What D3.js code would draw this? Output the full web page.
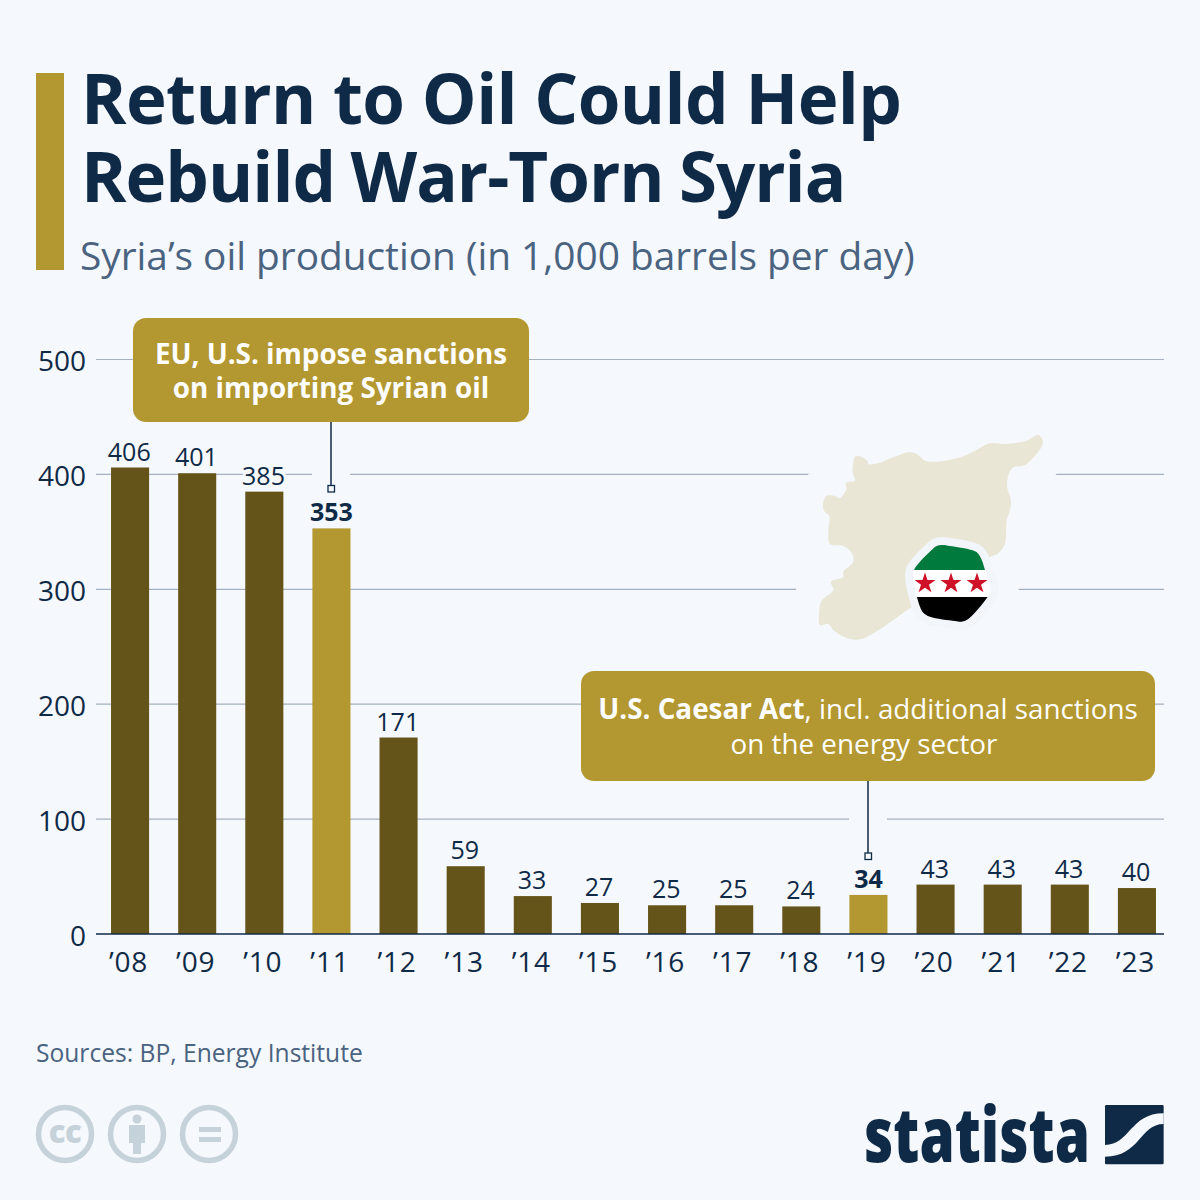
<!DOCTYPE html>
<html><head><meta charset="utf-8">
<script src="https://cdn.jsdelivr.net/npm/d3@7/dist/d3.min.js"></script>
<style>html,body{margin:0;padding:0;background:#f5f8fc}svg{display:block}text{font-family:"Open Sans",sans-serif}</style>
</head><body><div id="c"></div>
<script>
const years=["’08","’09","’10","’11","’12","’13","’14","’15","’16","’17","’18","’19","’20","’21","’22","’23"];
const production=[406,401,385,353,171,59,33,27,25,25,24,34,43,43,43,40];
const highlighted=["’11","’19"];
const yTicks=[0,100,200,300,400,500];
const titleLines=["Return to Oil Could Help","Rebuild War-Torn Syria"];
const subtitle="Syria’s oil production (in 1,000 barrels per day)";
const source="Sources: BP, Energy Institute";

const NAVY="#0f2a47",SLATE="#4a6380",DARK="#655419",GOLD="#b39730",BG="#f5f8fc",GRID="#a5b0c0";
const svg=d3.select("#c").append("svg").attr("width",1200).attr("height",1200);
svg.append("rect").attr("width",1200).attr("height",1200).attr("fill",BG);

// header
svg.append("rect").attr("x",36).attr("y",73).attr("width",28).attr("height",197).attr("fill",GOLD);
svg.selectAll("text.title").data(titleLines).join("text").attr("class","title")
  .attr("x",81).attr("y",(d,i)=>124+i*77.5).attr("font-size",69).attr("font-weight",700).attr("fill",NAVY)
  .attr("letter-spacing",(d,i)=>i?-1:-0.6).attr("word-spacing",(d,i)=>i?-1.6:0).text(d=>d);
svg.append("text").attr("x",80).attr("y",270).attr("font-size",38.8).attr("fill",SLATE).text(subtitle);

// scales
const y=d3.scaleLinear().domain([0,500]).range([934,359.5]);
const x=d3.scaleBand().domain(years).range([96.5,1170.5]).paddingInner(0.433).paddingOuter(0.2165);

// grid + axis
const yAxis=d3.axisLeft(y).tickValues(yTicks).tickSize(0).tickPadding(0);
const gy=svg.append("g").attr("transform","translate(86,0)").call(yAxis);
gy.select(".domain").remove();
gy.selectAll("text").attr("font-size",28).attr("fill",NAVY).attr("x",0).attr("dy","0.41em");
svg.append("g").selectAll("line").data(yTicks.filter(d=>d>0)).join("line")
  .attr("x1",96).attr("x2",1164).attr("y1",d=>y(d)).attr("y2",d=>y(d)).attr("stroke",GRID).attr("stroke-width",1.2);

// map
const mapPts=[[228,108],[262,122],[265,132],[295,130],[340,112],[385,97],[410,102],[435,122],[470,125],[530,115],[580,95],[630,70],[680,72],[740,62],[775,45],[788,60],[786,78],[735,135],[700,142],[685,165],[682,205],[692,235],[692,262],[680,300],[675,370],[655,400],[628,412],[500,500],[415,548],[240,658],[195,652],[160,630],[145,612],[120,615],[118,572],[125,542],[160,510],[152,485],[190,472],[190,455],[220,425],[215,398],[190,378],[150,372],[145,330],[148,290],[130,268],[138,228],[165,228],[178,235],[198,210],[198,188],[225,182],[218,155]];
const flagPts=[[470,378],[487,375],[510,378],[575,390],[592,398],[603,415],[615,450],[632,510],[620,535],[565,597],[545,605],[525,603],[450,590],[430,578],[420,560],[400,480],[402,450],[455,390]];
const zx=d3.scaleLinear().domain([0,300]).range([780,880]);
const zy=d3.scaleLinear().domain([0,240]).range([420,500]);
const line=d3.line().x(d=>zx(d[0])).y(d=>zy(d[1])).curve(d3.curveCatmullRomClosed.alpha(0.5));
const path=p=>line(p);
// mask grid around the map
svg.append("path").attr("d",path(mapPts)).attr("fill",BG).attr("stroke",BG).attr("stroke-width",56).attr("stroke-linejoin","round");
svg.append("path").attr("d",path(flagPts)).attr("fill",BG).attr("stroke",BG).attr("stroke-width",56).attr("stroke-linejoin","round");
svg.append("path").attr("d",path(mapPts)).attr("fill","#e9e6d6");
svg.append("path").attr("d",path(flagPts)).attr("fill","#f2f5fa").attr("stroke","#f2f5fa").attr("stroke-width",16).attr("stroke-linejoin","round");
const defs=svg.append("defs");
defs.append("clipPath").attr("id","fc").append("path").attr("d",path(flagPts));
const fg=svg.append("g").attr("clip-path","url(#fc)");
fg.append("rect").attr("x",900).attr("y",540).attr("width",100).attr("height",30).attr("fill","#007a3d");
fg.append("rect").attr("x",900).attr("y",570).attr("width",100).attr("height",27).attr("fill","#fff");
fg.append("rect").attr("x",900).attr("y",597).attr("width",100).attr("height",30).attr("fill","#000");
const star=d3.symbol().type(d3.symbolStar).size(135);
fg.selectAll("path.s").data([925,951,977]).join("path").attr("class","s")
  .attr("transform",d=>`translate(${d},583.5)`).attr("d",star()).attr("fill","#ce1126");

// callouts
function connector(cx,y1,y2,yEnd){
  svg.append("rect").attr("x",cx-19).attr("y",y1).attr("width",38).attr("height",yEnd-y1).attr("fill",BG);
  svg.append("line").attr("x1",cx).attr("x2",cx).attr("y1",y1).attr("y2",y2).attr("stroke",NAVY).attr("stroke-width",1.5);
  svg.append("rect").attr("x",cx-3).attr("y",y2).attr("width",6.5).attr("height",6.5).attr("fill",BG).attr("stroke",NAVY).attr("stroke-width",1.3);
}
connector(331,422,485.5,495);
connector(868,781,853,862);
svg.append("rect").attr("x",133).attr("y",318).attr("width",396).attr("height",104).attr("rx",13).attr("fill",GOLD);
svg.append("rect").attr("x",581).attr("y",671).attr("width",574).attr("height",110).attr("rx",13).attr("fill",GOLD);
const call=(cx,yy,parts)=>{
  const t=svg.append("text").attr("x",cx).attr("y",yy).attr("text-anchor","middle").attr("font-size",27.8).attr("fill","#fff");
  parts.forEach(([s,b])=>t.append("tspan").attr("font-weight",b?700:400).text(s));
};
call(331,363.5,[["EU, U.S. impose sanctions",1]]);
call(331,398,[["on importing Syrian oil",1]]);
call(868,719,[["U.S. Caesar Act",1],[", incl. additional sanctions",0]]);
call(864,754,[["on the energy sector",0]]);

// value labels
const isH=d=>highlighted.includes(d);
const data=years.map((d,i)=>({year:d,v:production[i]}));
const vl=svg.append("g");
const lx=d=>x(d.year)+x.bandwidth()/2-(isH(d.year)?0:0.8);
vl.selectAll("text.h").data(data).join("text").attr("class","h")
  .attr("x",lx).attr("y",d=>y(d.v)-7).attr("text-anchor","middle")
  .attr("font-size",25).attr("fill",BG).attr("stroke",BG).attr("stroke-width",6).attr("stroke-linejoin","round")
  .attr("font-weight",d=>isH(d.year)?700:400).text(d=>d.v);
vl.selectAll("text.v").data(data).join("text").attr("class","v")
  .attr("x",lx).attr("y",d=>y(d.v)-7).attr("text-anchor","middle")
  .attr("font-size",25).attr("fill",NAVY)
  .attr("font-weight",d=>isH(d.year)?700:400).text(d=>d.v);

// bars, above the label halos
svg.append("g").selectAll("rect").data(data).join("rect")
  .attr("x",d=>x(d.year)).attr("width",x.bandwidth())
  .attr("y",d=>y(d.v)).attr("height",d=>y(0)-y(d.v)).attr("fill",d=>isH(d.year)?GOLD:DARK);
svg.append("line").attr("x1",96).attr("x2",1164).attr("y1",y(0)).attr("y2",y(0)).attr("stroke",NAVY).attr("stroke-width",1.4);

// x axis labels
const xAxis=d3.axisBottom(x).tickSize(0).tickPadding(0);
const gx=svg.append("g").attr("transform","translate(0,943)").call(xAxis);
gx.select(".domain").remove();
gx.selectAll("text").attr("font-size",28).attr("fill",NAVY).attr("y",29).attr("dy",0).attr("dx",-1.5).attr("letter-spacing",0.8);

// source
svg.append("text").attr("x",36).attr("y",1062).attr("font-size",24.6).attr("fill",SLATE).text(source);

// licence icons
const IC="#c5d2da";
[65,137,209].forEach(c=>svg.append("circle").attr("cx",c).attr("cy",1134).attr("r",26.5).attr("fill","none").attr("stroke",IC).attr("stroke-width",5.5));
svg.append("text").attr("x",65).attr("y",1143).attr("text-anchor","middle").attr("font-size",31).attr("font-weight",800).attr("letter-spacing",-0.5).attr("fill",IC).text("cc");
svg.append("circle").attr("cx",137).attr("cy",1119).attr("r",4.5).attr("fill",IC);
svg.append("path").attr("d","M129,1125H145V1143H141V1154H133V1143H129Z").attr("fill",IC);
svg.append("rect").attr("x",199).attr("y",1127).attr("width",22).attr("height",5).attr("fill",IC);
svg.append("rect").attr("x",199).attr("y",1137).attr("width",22).attr("height",5).attr("fill",IC);

// logo
svg.append("text").attr("x",864).attr("y",1162).attr("font-size",76).attr("font-weight",800).attr("fill",NAVY)
  .attr("textLength",226).attr("lengthAdjust","spacingAndGlyphs").text("statista");
const lg=svg.append("g").attr("transform","translate(1105,1105) scale(0.3333)");
lg.append("rect").attr("width",176).attr("height",178).attr("rx",4).attr("fill",NAVY);
lg.append("path").attr("d","M0,120C75,120 75,25 176,25V57C105,57 105,155 0,155Z").attr("fill",BG);
</script></body></html>
